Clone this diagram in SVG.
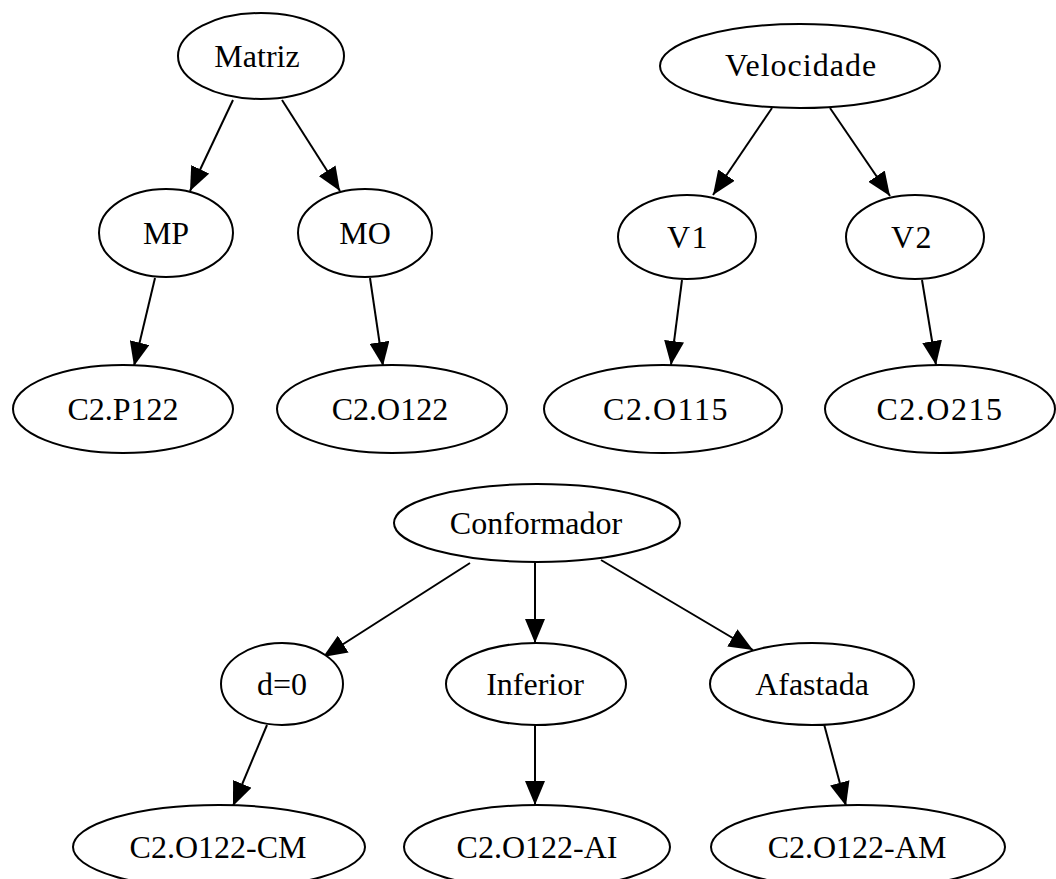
<svg xmlns="http://www.w3.org/2000/svg" width="1056" height="879" viewBox="0 0 1056 879">
  <style>
    .node ellipse { fill: #ffffff; stroke: #000000; stroke-width: 2; }
    .node text { font-family: "Liberation Serif", "Times New Roman", serif; font-size: 32px; fill: #000000; text-anchor: middle; }
    .wide text { letter-spacing: 1.5px; }
    .edges line { stroke: #000000; stroke-width: 2; marker-end: url(#arrow); }
  </style>
  <defs>
    <marker id="arrow" markerUnits="userSpaceOnUse" markerWidth="24" markerHeight="20" refX="24" refY="10" orient="auto">
      <path d="M0,0 L24,10 L0,20 Z" fill="#000000"/>
    </marker>
  </defs>
  <rect width="1056" height="879" fill="#ffffff"/>

  <!-- connectors -->
  <g id="edges" class="edges">
    <line x1="233" y1="100" x2="190" y2="191"/>
    <line x1="282" y1="100" x2="340" y2="191"/>
    <line x1="155" y1="278" x2="134" y2="366"/>
    <line x1="370" y1="278" x2="383" y2="366"/>
    <line x1="772" y1="108" x2="713" y2="195"/>
    <line x1="830" y1="108" x2="890" y2="196"/>
    <line x1="682" y1="280" x2="671" y2="365"/>
    <line x1="922" y1="280" x2="936" y2="365"/>
    <line x1="470" y1="563" x2="323" y2="657"/>
    <line x1="535" y1="562" x2="535" y2="643"/>
    <line x1="601" y1="560" x2="753" y2="650"/>
    <line x1="267" y1="725" x2="233" y2="806"/>
    <line x1="535" y1="725" x2="535" y2="805"/>
    <line x1="824" y1="724" x2="846" y2="806"/>
  </g>

  <!-- Matriz tree -->
  <g id="matriz" class="node"><ellipse cx="261" cy="56" rx="83" ry="43"/><text x="257" y="67">Matriz</text></g>
  <g id="mp" class="node"><ellipse cx="166" cy="233" rx="67" ry="44"/><text x="166" y="244">MP</text></g>
  <g id="mo" class="node"><ellipse cx="365" cy="233" rx="67" ry="44"/><text x="365" y="244">MO</text></g>
  <g id="c2p122" class="node"><ellipse cx="123" cy="409" rx="110" ry="44"/><text x="123" y="420">C2.P122</text></g>
  <g id="c2o122" class="node"><ellipse cx="392" cy="409" rx="115" ry="44"/><text x="390" y="420">C2.O122</text></g>

  <!-- Velocidade tree -->
  <g id="velocidade" class="node"><ellipse cx="800" cy="66" rx="140" ry="42"/><text x="801" y="76" style="letter-spacing:1px">Velocidade</text></g>
  <g id="v1" class="node wide"><ellipse cx="687" cy="237" rx="69" ry="42"/><text x="688" y="248">V1</text></g>
  <g id="v2" class="node wide"><ellipse cx="915" cy="237" rx="69" ry="42"/><text x="912" y="248">V2</text></g>
  <g id="c2o115" class="node wide"><ellipse cx="663" cy="409" rx="119" ry="44"/><text x="666" y="420">C2.O115</text></g>
  <g id="c2o215" class="node wide"><ellipse cx="940" cy="409" rx="115" ry="44"/><text x="940" y="420">C2.O215</text></g>

  <!-- Conformador tree -->
  <g id="conformador" class="node"><ellipse cx="537" cy="523" rx="143" ry="39"/><text x="536" y="534">Conformador</text></g>
  <g id="d0" class="node"><ellipse cx="282" cy="684" rx="61" ry="41"/><text x="282" y="695">d=0</text></g>
  <g id="inferior" class="node"><ellipse cx="536" cy="684" rx="90" ry="41"/><text x="535" y="695">Inferior</text></g>
  <g id="afastada" class="node"><ellipse cx="812" cy="684" rx="102" ry="41"/><text x="812" y="695">Afastada</text></g>
  <g id="c2o122cm" class="node"><ellipse cx="219" cy="847" rx="146" ry="42"/><text x="218" y="858">C2.O122-CM</text></g>
  <g id="c2o122ai" class="node"><ellipse cx="537" cy="847" rx="133" ry="42"/><text x="537" y="858">C2.O122-AI</text></g>
  <g id="c2o122am" class="node"><ellipse cx="858" cy="847" rx="147" ry="42"/><text x="857" y="858">C2.O122-AM</text></g>
</svg>
